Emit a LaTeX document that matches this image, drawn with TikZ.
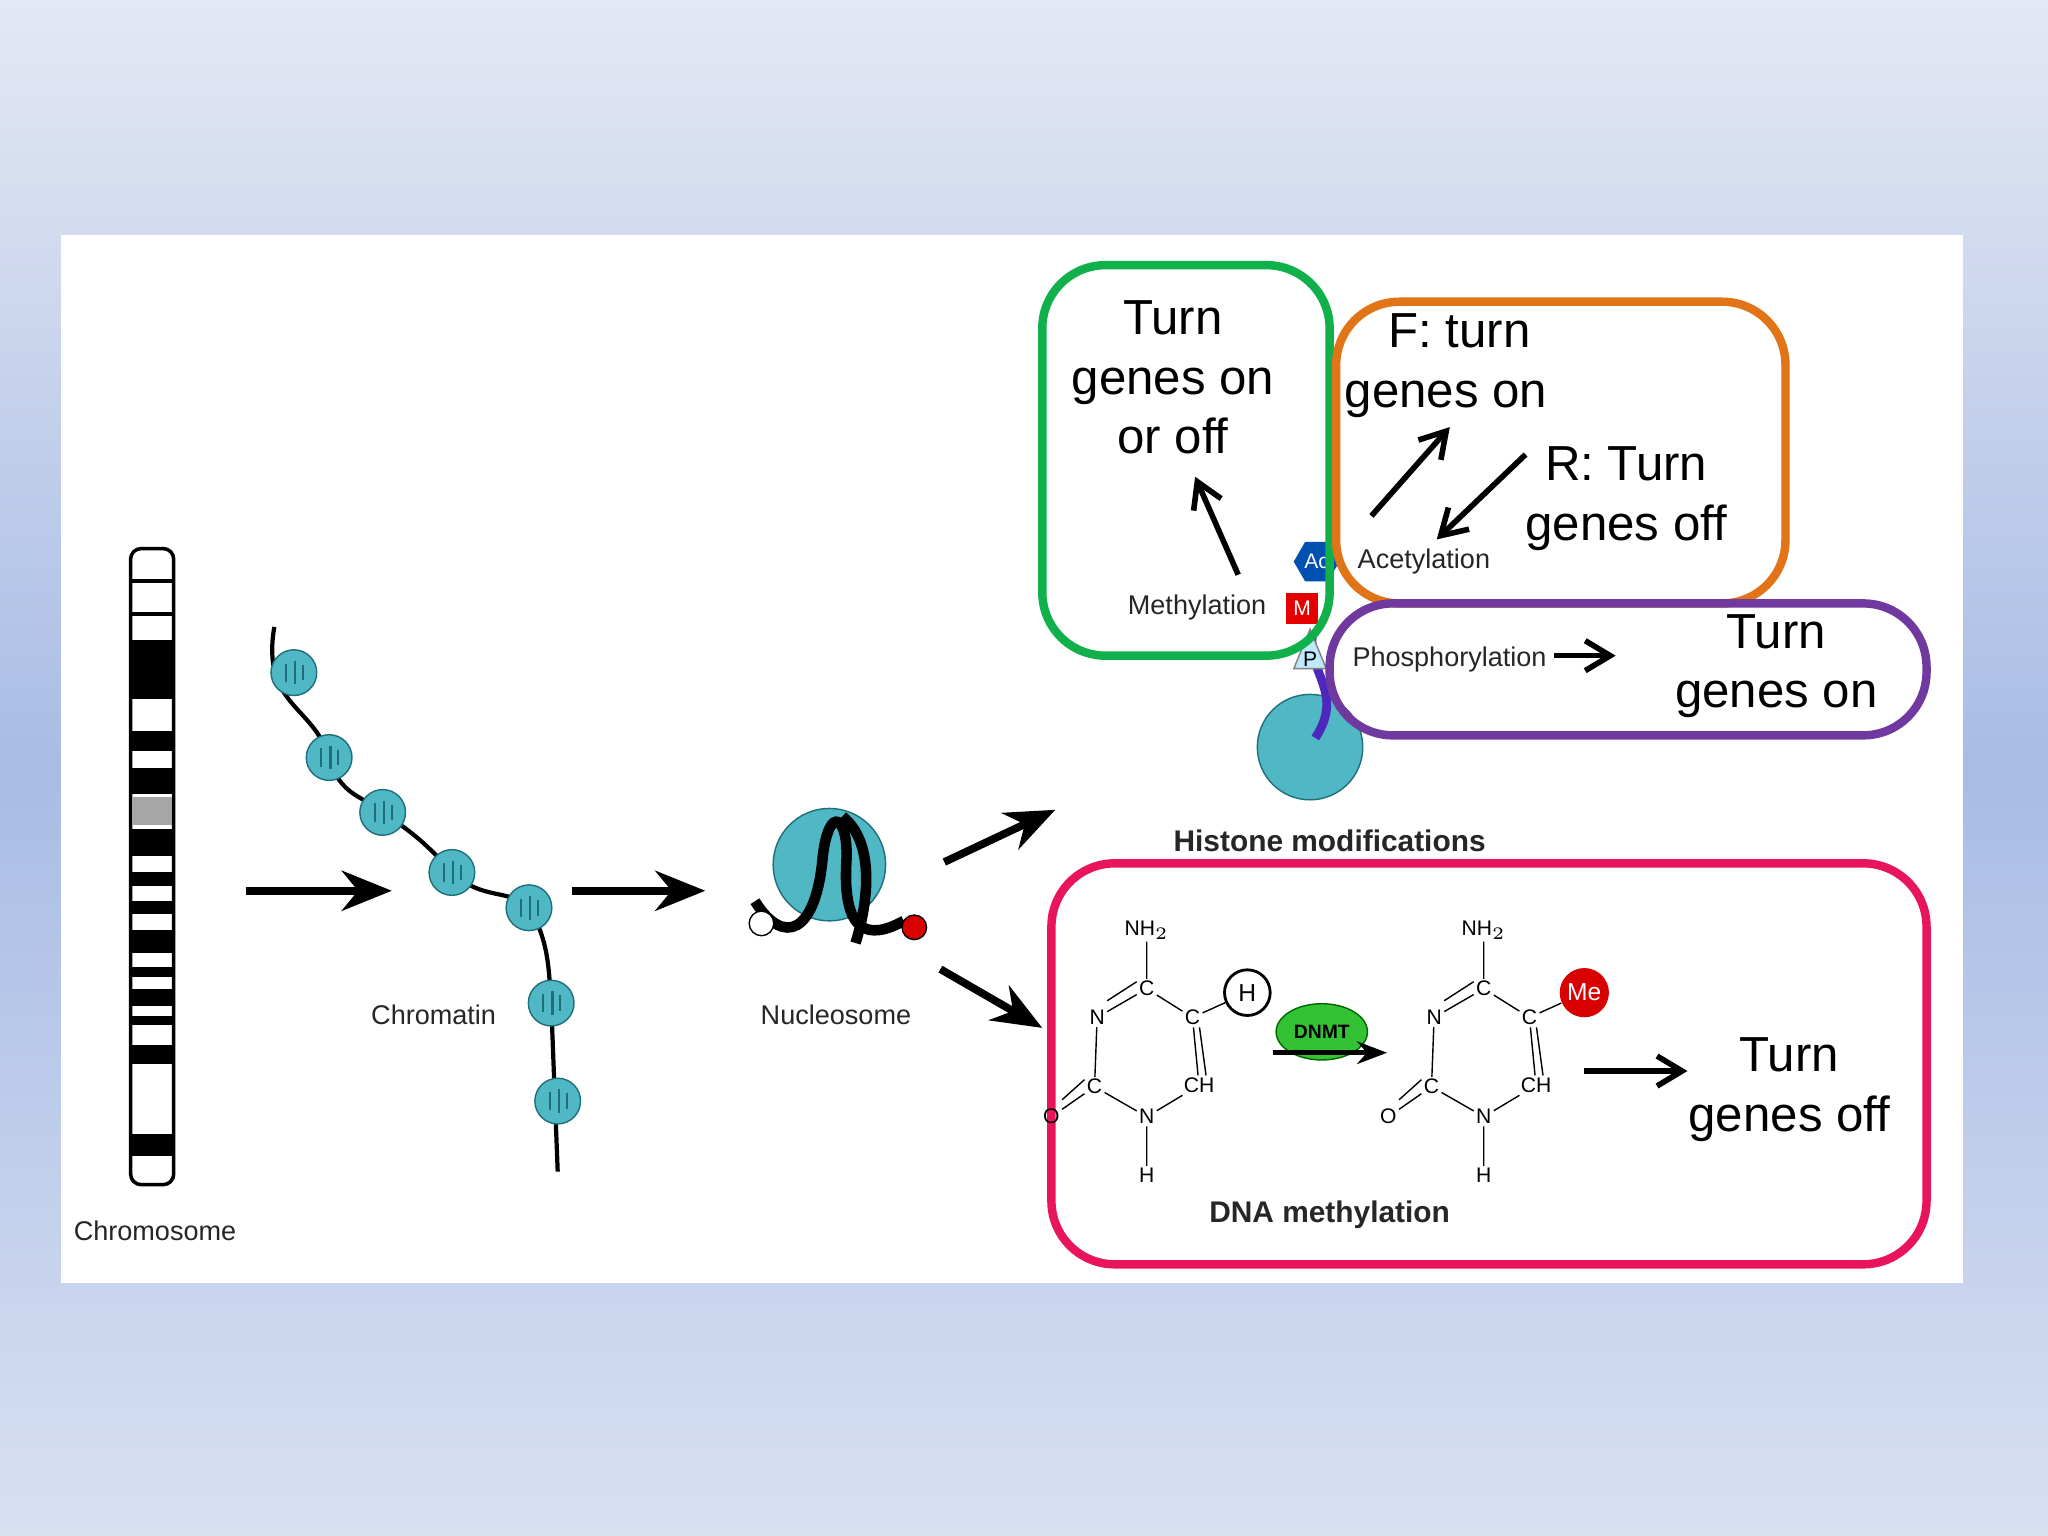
\documentclass[tikz,border=0pt]{standalone}
\usepackage{fontspec}
\setmainfont{Liberation Sans}
\usetikzlibrary{arrows.meta,shapes.geometric,positioning}
\definecolor{teal1}{HTML}{4FB8C4}
\definecolor{tealdark}{HTML}{1E6F7A}
\definecolor{boxgreen}{HTML}{10B04A}
\definecolor{boxorange}{HTML}{E07416}
\definecolor{boxpurple}{HTML}{7039A0}
\definecolor{boxpink}{HTML}{E8145E}
\definecolor{bgtop}{HTML}{E4E8F4}
\definecolor{bgmid}{HTML}{A8BCE4}
\definecolor{bgbot}{HTML}{D8E0F2}
\tikzset{
  big/.style={font=\fontsize{14}{17}\selectfont, align=center},
  lab/.style={font=\fontsize{7.7}{10}\selectfont, text=black!85},
  chem/.style={font=\fontsize{6}{7}\selectfont, inner sep=0.5pt},
  mainarrow/.style={-{Stealth[length=5mm,width=4mm]}, line width=2.2pt},
  pointer/.style={-{Straight Barb[length=2.5mm,width=3mm]}, line width=1.6pt},
  frame/.style={rounded corners=18pt, line width=2.4pt},
  nuc/.style={circle, fill=teal1, draw=tealdark, inner sep=0pt, minimum size=13pt},
}
\begin{document}
\begin{tikzpicture}[x=0.0130612cm, y=-0.0130612cm]
  % background
  \shade[top color=bgtop, bottom color=bgbot, middle color=bgmid] (0,0) rectangle (1568,1176);
  \useasboundingbox (0,0) rectangle (1568,1176);
  \fill[white] (47,180) rectangle (1503,982);

  % chromosome
  \draw[line width=1pt, rounded corners=3pt, fill=white] (100,420) rectangle (133,907);
  \foreach \a/\b in {490/535, 560/575, 588/608, 635/655, 668/678, 690/700, 712/730, 740/748, 757/770, 778/785, 800/815, 868/885}
    \fill[black] (101,\a) rectangle (132,\b);
  \fill[gray!70] (101,610) rectangle (132,632);
  \draw[line width=1pt] (100,445) -- (133,445) (100,470) -- (133,470);
  \node[lab, anchor=west] (chromLab) at (47,942) {Chromosome};

  % chromatin fibre
  \draw[line width=1.2pt] (210,480) .. controls (200,540) and (240,540) .. (252,580)
     .. controls (260,610) and (280,610) .. (293,622) .. controls (320,640) and (330,650) .. (346,668)
     .. controls (370,690) and (390,680) .. (405,695) .. controls (420,720) and (420,740) .. (422,768)
     -- (427,897);
  \foreach \x/\y [count=\i] in {225/515, 252/580, 293/622, 346/668, 405/695, 422/768, 427/843} {
    \node[nuc] (n\i) at (\x,\y) {};
    \draw[tealdark, line width=0.6pt] (\x-6,\y-7) -- (\x-6,\y+7) (\x+1,\y-9) -- (\x+1,\y+9) (\x+7,\y-6) -- (\x+7,\y+6);
  }
  \node[lab] (chromatinLab) at (332,777) {Chromatin};

  % nucleosome
  \node[circle, fill=teal1, draw=tealdark, minimum size=32pt, inner sep=0pt] (nucl) at (635,662) {};
  \draw[black, line width=3pt] (578,690) .. controls (600,725) and (625,715) .. (630,655) .. controls (635,615) and (650,625) .. (648,660) .. controls (645,715) and (665,720) .. (692,705);
  \draw[black, line width=3pt] (645,625) .. controls (670,645) and (665,690) .. (655,722);
  \node[circle, draw=black, fill=white, minimum size=7pt, inner sep=0pt] (endA) at (583,707) {};
  \node[circle, fill=red!85!black, draw=black, minimum size=7pt, inner sep=0pt] (endB) at (700,710) {};
  \node[lab] (nuclLab) at (640,777) {Nucleosome};

  % main arrows
  \coordinate (a1) at (188,682); \coordinate (a2) at (300,682);
  \coordinate (b1) at (438,682); \coordinate (b2) at (540,682);
  \coordinate (c1) at (723,660); \coordinate (c2) at (808,620);
  \coordinate (d1) at (720,742); \coordinate (d2) at (798,787);
  \draw[mainarrow] (a1) -- (a2);
  \draw[mainarrow] (b1) -- (b2);
  \draw[mainarrow] (c1) -- (c2);
  \draw[mainarrow] (d1) -- (d2);

  % histone
  \node[circle, fill=teal1, draw=tealdark, minimum size=30pt, inner sep=0pt] (hist) at (1003,572) {};
  \draw[boxpurple!70!blue, line width=2.5pt] (1007,565) .. controls (1030,530) and (1000,515) .. (1005,485);
  \node[regular polygon, regular polygon sides=6, fill=blue!55!cyan!70!black, inner sep=0pt, minimum size=13pt, font=\fontsize{6}{7}\selectfont, text=white] (ac) at (1008,430) {Ac};
  \node[fill=red!90!black, text=white, minimum size=9pt, inner sep=0pt, font=\fontsize{6}{7}\selectfont] (me) at (997,466) {M};
  \node[isosceles triangle, shape border rotate=90, fill=cyan!25!white, draw=gray, inner sep=0.5pt, font=\fontsize{6}{7}\selectfont] (ph) at (1003,505) {P};
  \node[lab, anchor=east] (methLab) at (979,465) {Methylation};
  \node[lab, anchor=west] (acLab) at (1030,430) {Acetylation};
  \node[lab, anchor=west] (phLab) at (1026,505) {Phosphorylation};
  \node[lab, font=\fontsize{8.5}{10}\selectfont\bfseries] (histLab) at (1018,644) {Histone modifications};

  % frames and notes
  \draw[frame, boxgreen] (798,203) rectangle (1018,502);
  \draw[frame, boxorange] (1023,231) rectangle (1367,462);
  \draw[frame, boxpurple] (1018,462) rectangle (1475,563);
  \draw[frame, boxpink] (805,661) rectangle (1475,968);
  \node[big] (t1) at (898,289) {Turn\\genes on\\or off};
  \node[big, anchor=west] (t2) at (1020,280) {\ \ F: turn\\genes on};
  \node[big] (t3) at (1245,382) {R: Turn\\genes off};
  \node[big] (t4) at (1360,510) {Turn\\genes on};
  \node[big] (t5) at (1370,834) {Turn\\genes off};
  \coordinate (p1) at (948,440); \coordinate (p2) at (915,365);
  \coordinate (q1) at (1050,395); \coordinate (q2) at (1110,327);
  \coordinate (r1) at (1168,348); \coordinate (r2) at (1100,413);
  \coordinate (s1) at (1190,502); \coordinate (s2) at (1237,502);
  \coordinate (u1) at (1213,820); \coordinate (u2) at (1292,820);
  \draw[pointer] (p1) -- (p2);
  \draw[pointer] (q1) -- (q2);
  \draw[pointer] (r1) -- (r2);
  \draw[pointer] (s1) -- (s2);
  \draw[pointer] (u1) -- (u2);

  % DNA methylation: cytosine -> 5-methylcytosine
  \foreach \dx/\sub in {0/L, 258/R} {
    \begin{scope}[xshift=\dx*0.0130612cm]
      \node[chem] (nh\sub) at (878,712) {NH$_2$};
      \node[chem] (c4\sub) at (878,757) {C};
      \node[chem] (c5\sub) at (913,779) {C};
      \node[chem] (n3\sub) at (840,779) {N};
      \node[chem] (c6\sub) at (918,831) {CH};
      \node[chem] (c2\sub) at (838,832) {C};
      \node[chem] (o\sub) at (805,855) {O};
      \node[chem] (n1\sub) at (878,855) {N};
      \node[chem] (h\sub) at (878,900) {H};
      \draw (nh\sub) -- (c4\sub) (c4\sub) -- (c5\sub) (c5\sub) -- (c6\sub)
            (c6\sub) -- (n1\sub) (n1\sub) -- (h\sub) (n1\sub) -- (c2\sub)
            (c2\sub) -- (n3\sub) (n3\sub) -- (c4\sub) (c2\sub) -- (o\sub);
      \draw ([xshift=2pt]c5\sub.south) -- ([xshift=2pt]c6\sub.north);
      \draw ([yshift=2pt]n3\sub.north east) -- ([yshift=2pt]c4\sub.west);
      \draw ([yshift=2pt]o\sub.north east) -- ([yshift=2pt]c2\sub.west);
    \end{scope}
  }
  \node[circle, draw=black, thick, minimum size=13pt, inner sep=0pt, font=\fontsize{7}{8}\selectfont] (hAtom) at (955,760) {H};
  \draw (c5L) -- (hAtom);
  \node[circle, fill=red!85!black, text=white, minimum size=14pt, inner sep=0pt, font=\fontsize{7}{8}\selectfont] (meAtom) at (1213,760) {Me};
  \draw (c5R) -- (meAtom);
  \node[ellipse, fill=green!70!black!80, draw=green!40!black, inner sep=1pt, minimum width=26pt, minimum height=16pt, font=\fontsize{5.5}{6}\selectfont\bfseries] (dnmt) at (1012,790) {DNMT};
  \coordinate (m1) at (975,806); \coordinate (m2) at (1062,806);
  \draw[-{Stealth[length=3mm]}, line width=1.4pt] (m1) -- (m2);
  \node[lab, font=\fontsize{8.5}{10}\selectfont\bfseries] (dnaLab) at (1018,930) {DNA methylation};
\end{tikzpicture}
\end{document}
